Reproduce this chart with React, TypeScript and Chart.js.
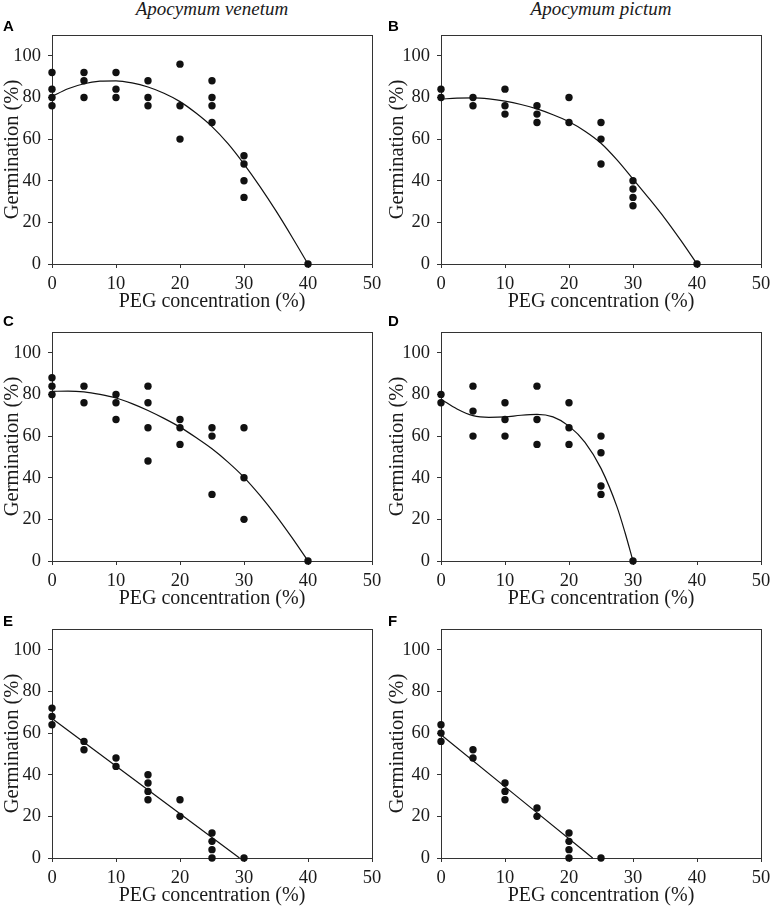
import React, { useEffect, useRef } from 'react';
import { Chart, registerables } from 'chart.js';

Chart.register(...registerables);

// ---------- data ----------
const A_X = [0, 0, 0, 0, 5, 5, 5, 10, 10, 10, 15, 15, 15, 20, 20, 20, 25, 25, 25, 25, 30, 30, 30, 30, 40];
const A_Y = [92, 84, 80, 76, 92, 88, 80, 92, 84, 80, 88, 80, 76, 96, 76, 60, 88, 80, 76, 68, 52, 48, 40, 32, 0];

const B_X = [0, 0, 5, 5, 10, 10, 10, 15, 15, 15, 20, 20, 25, 25, 25, 30, 30, 30, 30, 40];
const B_Y = [84, 80, 80, 76, 84, 76, 72, 76, 72, 68, 80, 68, 68, 60, 48, 40, 36, 32, 28, 0];

const C_X = [0, 0, 0, 5, 5, 10, 10, 10, 15, 15, 15, 15, 20, 20, 20, 25, 25, 25, 30, 30, 30, 40];
const C_Y = [88, 84, 80, 84, 76, 80, 76, 68, 84, 76, 64, 48, 68, 64, 56, 64, 60, 32, 64, 40, 20, 0];

const D_X = [0, 0, 5, 5, 5, 10, 10, 10, 15, 15, 15, 20, 20, 20, 25, 25, 25, 25, 30];
const D_Y = [80, 76, 84, 72, 60, 76, 68, 60, 84, 68, 56, 76, 64, 56, 60, 52, 36, 32, 0];

const E_X = [0, 0, 0, 5, 5, 10, 10, 15, 15, 15, 15, 20, 20, 25, 25, 25, 25, 30];
const E_Y = [72, 68, 64, 56, 52, 48, 44, 40, 36, 32, 28, 28, 20, 12, 8, 4, 0, 0];

const F_X = [0, 0, 0, 5, 5, 10, 10, 10, 15, 15, 20, 20, 20, 20, 25];
const F_Y = [64, 60, 56, 52, 48, 36, 32, 28, 24, 20, 12, 8, 4, 0, 0];

// fitted curves
const FIT40_X = [0, 2.5, 5, 7.5, 10, 12.5, 15, 17.5, 20, 22.5, 25, 27.5, 30, 32.5, 35, 37.5, 40];
const A_FIT_Y = [80.5, 84.2, 86.6, 87.8, 88.0, 87.0, 85.0, 82.0, 78.0, 72.5, 66.0, 57.8, 48.0, 37.2, 25.5, 13.0, 0];
const B_FIT_Y = [79.2, 79.7, 79.8, 79.3, 78.2, 76.6, 74.5, 71.7, 68.3, 63.8, 58.0, 50.0, 40.8, 31.5, 21.8, 11.2, 0];
const C_FIT_Y = [81.5, 81.6, 81.2, 80.0, 78.3, 75.6, 72.3, 68.5, 64.3, 59.3, 53.9, 47.5, 40.2, 31.5, 21.8, 11.2, 0];
const D_FIT_X = [0, 2.5, 5, 7.5, 10, 12.5, 15, 17.5, 20, 22.5, 25, 27.5, 28.75, 30];
const D_FIT_Y = [77.7, 73.0, 69.8, 69.0, 69.2, 70.0, 70.4, 69.2, 64.8, 57.0, 44.5, 26.0, 13.7, 0];
const E_FIT_X = [0, 29.3];
const E_FIT_Y = [67.0, 0];
const F_FIT_X = [0, 23.7];
const F_FIT_Y = [59.2, 0];

const X_TITLE = 'PEG concentration (%)';
const Y_TITLE = 'Germination (%)';
const SPECIES = ['Apocymum venetum', 'Apocymum pictum'];
const LETTERS = ['A', 'B', 'C', 'D', 'E', 'F'];

// ---------- style ----------
const SERIF = '"Liberation Serif", "Times New Roman", serif';
const SANS = '"Liberation Sans", Arial, sans-serif';
const TEXT = '#1a1a1a';
const FRAME = '#333333';
const DOT = '#111111';

type PanelCfg = {
  px: number[]; py: number[]; fx: number[]; fy: number[];
  plotLeft: number; plotTop: number; plotRight: number; plotBottom: number; yW: number;
};

const PANELS: PanelCfg[] = [
  { px: A_X, py: A_Y, fx: FIT40_X, fy: A_FIT_Y, plotLeft: 52, plotTop: 35, plotRight: 372, plotBottom: 264, yW: 52 },
  { px: B_X, py: B_Y, fx: FIT40_X, fy: B_FIT_Y, plotLeft: 441, plotTop: 35, plotRight: 761, plotBottom: 264, yW: 56 },
  { px: C_X, py: C_Y, fx: FIT40_X, fy: C_FIT_Y, plotLeft: 52, plotTop: 332, plotRight: 372, plotBottom: 561, yW: 52 },
  { px: D_X, py: D_Y, fx: D_FIT_X, fy: D_FIT_Y, plotLeft: 441, plotTop: 332, plotRight: 761, plotBottom: 561, yW: 56 },
  { px: E_X, py: E_Y, fx: E_FIT_X, fy: E_FIT_Y, plotLeft: 52, plotTop: 629, plotRight: 372, plotBottom: 858, yW: 52 },
  { px: F_X, py: F_Y, fx: F_FIT_X, fy: F_FIT_Y, plotLeft: 441, plotTop: 629, plotRight: 761, plotBottom: 858, yW: 56 },
];

const PAD_TOP = 10;
const PAD_RIGHT = 12;
const X_H = 52;

const framePlugin = {
  id: 'frame',
  beforeDatasetsDraw(chart: any) {
    const { ctx, chartArea } = chart;
    const l = Math.round(chartArea.left) + 0.5;
    const t = Math.round(chartArea.top) + 0.5;
    const r = Math.round(chartArea.right) + 0.5;
    const b = Math.round(chartArea.bottom) + 0.5;
    ctx.save();
    ctx.strokeStyle = FRAME;
    ctx.lineWidth = 1;
    ctx.strokeRect(l, t, r - l, b - t);
    ctx.restore();
  },
};

function Panel({ cfg }: { cfg: PanelCfg }) {
  const ref = useRef<HTMLCanvasElement>(null);
  const left = cfg.plotLeft - cfg.yW;
  const top = cfg.plotTop - PAD_TOP;
  const w = cfg.yW + (cfg.plotRight - cfg.plotLeft) + PAD_RIGHT;
  const h = PAD_TOP + (cfg.plotBottom - cfg.plotTop) + X_H;

  useEffect(() => {
    const points = cfg.px.map((x, i) => ({ x, y: cfg.py[i] }));
    const fit = cfg.fx.map((x, i) => ({ x, y: cfg.fy[i] }));
    const gridOpts = {
      display: true,
      drawOnChartArea: false,
      drawTicks: true,
      tickLength: 4,
      color: FRAME,
      lineWidth: 1,
    };
    const chart = new Chart(ref.current!, {
      type: 'scatter',
      data: {
        datasets: [
          {
            data: fit,
            showLine: true,
            borderColor: DOT,
            borderWidth: 1.2,
            pointRadius: 0,
            cubicInterpolationMode: 'monotone',
            fill: false,
            clip: false,
          } as any,
          {
            data: points,
            pointRadius: 3.7,
            pointBackgroundColor: DOT,
            pointBorderWidth: 0,
            backgroundColor: DOT,
            borderWidth: 0,
            clip: false,
          } as any,
        ],
      },
      options: {
        responsive: false,
        animation: false,
        devicePixelRatio: 1,
        layout: { padding: { top: PAD_TOP, right: PAD_RIGHT, left: 0, bottom: 0 } },
        plugins: { legend: { display: false }, tooltip: { enabled: false }, title: { display: false } },
        scales: {
          x: {
            type: 'linear',
            min: 0,
            max: 50,
            border: { display: false },
            grid: gridOpts,
            ticks: {
              stepSize: 10,
              padding: 5,
              maxRotation: 0,
              color: TEXT,
              font: { family: SERIF, size: 18.5 },
            },
            title: {
              display: true,
              text: X_TITLE,
              color: TEXT,
              font: { family: SERIF, size: 20 },
              padding: { top: 0, bottom: 2 },
            },
            afterFit: (s: any) => {
              s.height = X_H;
              s.paddingLeft = 0;
              s.paddingRight = 0;
            },
          },
          y: {
            type: 'linear',
            min: 0,
            max: 110,
            border: { display: false },
            grid: gridOpts,
            ticks: {
              stepSize: 20,
              includeBounds: false,
              padding: 7,
              color: TEXT,
              font: { family: SERIF, size: 18.5 },
            },
            title: {
              display: true,
              text: Y_TITLE,
              color: TEXT,
              font: { family: SERIF, size: 20.5 },
              padding: { top: 0, bottom: 0 },
            },
            afterFit: (s: any) => {
              s.width = cfg.yW;
              s.paddingTop = 0;
              s.paddingBottom = 0;
            },
          },
        },
      } as any,
      plugins: [framePlugin],
    });
    return () => chart.destroy();
  }, []);

  return (
    <canvas
      ref={ref}
      width={w}
      height={h}
      style={{ position: 'absolute', left, top, width: w, height: h }}
    />
  );
}

export default function App() {
  return (
    <div
      style={{
        position: 'absolute',
        left: 0,
        top: 0,
        width: 770,
        height: 912,
        overflow: 'hidden',
        background: '#ffffff',
      }}
    >
      {PANELS.map((p, i) => (
        <Panel key={i} cfg={p} />
      ))}
      {SPECIES.map((s, i) => (
        <div
          key={s}
          style={{
            position: 'absolute',
            left: i === 0 ? 52 : 441,
            width: 320,
            top: -1,
            textAlign: 'center',
            fontFamily: SERIF,
            fontStyle: 'italic',
            fontSize: 19,
            lineHeight: '19px',
            color: TEXT,
            whiteSpace: 'nowrap',
          }}
        >
          {s}
        </div>
      ))}
      {LETTERS.map((l, i) => (
        <div
          key={l}
          style={{
            position: 'absolute',
            left: i % 2 === 0 ? 3 : 388,
            top: [18, 18, 313, 313, 613, 613][i],
            fontFamily: SANS,
            fontWeight: 'bold',
            fontSize: 15,
            lineHeight: '15px',
            color: '#000',
          }}
        >
          {l}
        </div>
      ))}
    </div>
  );
}
